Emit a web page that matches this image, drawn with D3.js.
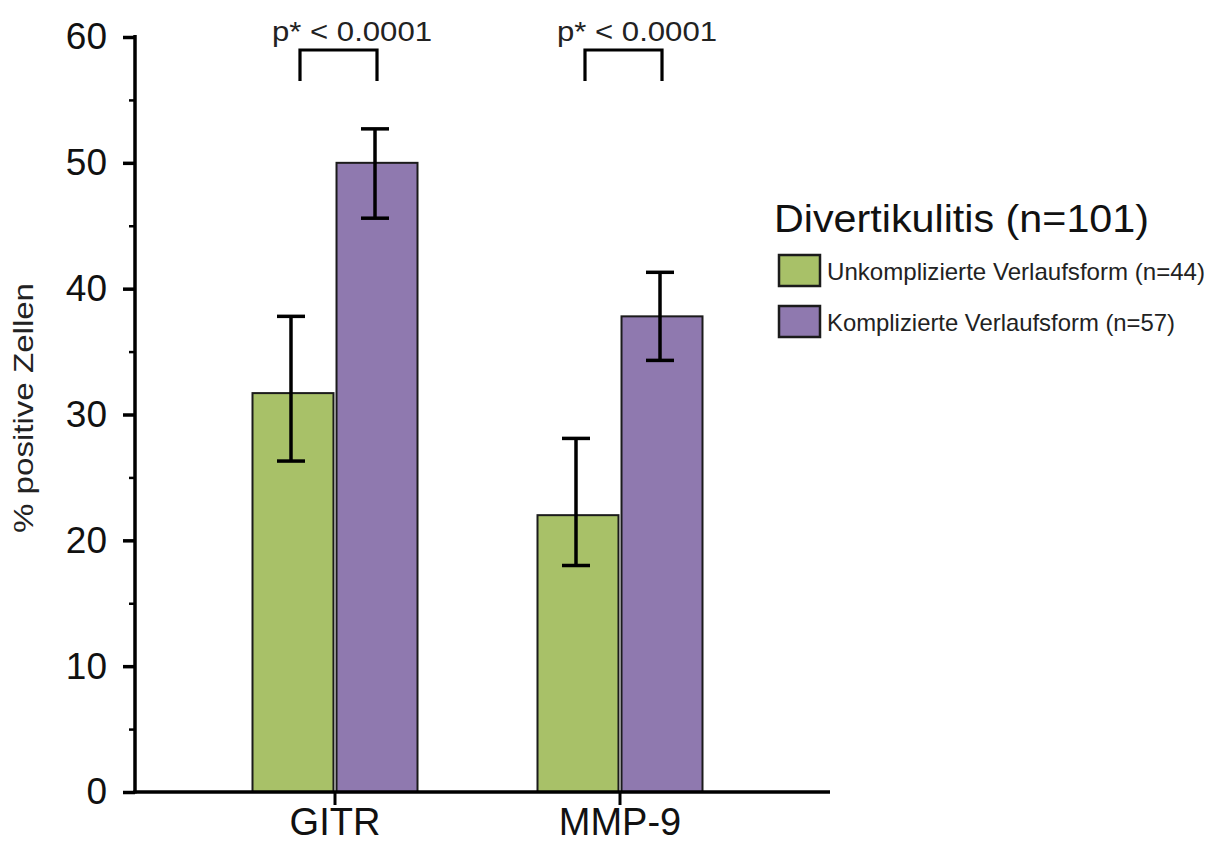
<!DOCTYPE html>
<html>
<head>
<meta charset="utf-8">
<script src="https://cdn.jsdelivr.net/npm/d3@7"></script>
<style>
  html, body { margin: 0; padding: 0; background: #fff; }
  svg { display: block; font-family: "Liberation Sans", Arial, Helvetica, sans-serif; }
</style>
</head>
<body>
<svg id="chart" width="1216" height="845"></svg>
<script>
// ---- data ----
const categories = ["GITR", "MMP-9"];
const seriesNames = ["Unkomplizierte Verlaufsform (n=44)", "Komplizierte Verlaufsform (n=57)"];
const seriesColors = ["#a8c168", "#8f79af"];
const meanUnkompliziert = [31.7, 22.0];
const meanKompliziert = [50.0, 37.8];
const errLowUnkompliziert = [26.3, 18.0];
const errHighUnkompliziert = [37.8, 28.1];
const errLowKompliziert = [45.6, 34.3];
const errHighKompliziert = [52.7, 41.3];
const pLabels = ["p* < 0.0001", "p* < 0.0001"];
const yTicks = [0, 10, 20, 30, 40, 50, 60];
const yMinorTicks = [5, 15, 25, 35, 45, 55];
const yLabel = "% positive Zellen";
const legendTitle = "Divertikulitis (n=101)";

const means = [meanUnkompliziert, meanKompliziert];
const lows = [errLowUnkompliziert, errLowKompliziert];
const highs = [errHighUnkompliziert, errHighKompliziert];

const rows = [];
categories.forEach((c, i) => {
  seriesNames.forEach((s, j) => {
    rows.push({cat: c, ser: s, si: j, v: means[j][i], lo: lows[j][i], hi: highs[j][i]});
  });
});

const svg = d3.select("#chart");
const axisX = 135, axisRight = 830;

const y = d3.scaleLinear().domain([0, 60]).range([792, 37]);
const x0 = d3.scaleBand().domain(categories).range([192.5, 762.5]).padding(0);
const x1 = d3.scaleBand().domain(seriesNames).range([-82.5, 82.5]).paddingInner(0.036).paddingOuter(0);
const color = d3.scaleOrdinal().domain(seriesNames).range(seriesColors);
const cx = c => x0(c) + x0.bandwidth() / 2;

// bars
svg.append("g").selectAll("rect").data(rows).join("rect")
  .attr("x", d => cx(d.cat) + x1(d.ser))
  .attr("y", d => y(d.v))
  .attr("width", x1.bandwidth())
  .attr("height", d => y(0) - y(d.v))
  .attr("fill", d => color(d.ser))
  .attr("stroke", "#1b1b1b")
  .attr("stroke-width", 2);

// error bars
const eb = svg.append("g").attr("stroke", "#000").attr("stroke-width", 3.5).attr("fill", "none");
rows.forEach(d => {
  const xc = cx(d.cat) + x1(d.ser) + x1.bandwidth() / 2 - 2;
  eb.append("line").attr("x1", xc).attr("x2", xc).attr("y1", y(d.hi)).attr("y2", y(d.lo));
  eb.append("line").attr("x1", xc - 14).attr("x2", xc + 14).attr("y1", y(d.hi)).attr("y2", y(d.hi));
  eb.append("line").attr("x1", xc - 14).attr("x2", xc + 14).attr("y1", y(d.lo)).attr("y2", y(d.lo));
});

// y axis
const yAxis = d3.axisLeft(y).tickValues(yTicks).tickSize(12).tickPadding(16).tickFormat(d3.format("d"));
const gy = svg.append("g").attr("transform", `translate(${axisX},0)`).call(yAxis);
gy.select(".domain").remove();
gy.selectAll(".tick line").attr("stroke", "#000").attr("stroke-width", 3.5);
gy.selectAll(".tick text").attr("font-size", 37).attr("fill", "#111").attr("font-family", "Liberation Sans, Arial, sans-serif");
const gyMinor = svg.append("g").attr("transform", `translate(${axisX},0)`)
  .call(d3.axisLeft(y).tickValues(yMinorTicks).tickSize(6).tickFormat(""));
gyMinor.select(".domain").remove();
gyMinor.selectAll(".tick line").attr("stroke", "#000").attr("stroke-width", 2.5);
svg.append("line").attr("x1", axisX).attr("x2", axisX).attr("y1", y(60) - 2).attr("y2", y(0) + 1.5)
  .attr("stroke", "#000").attr("stroke-width", 3.5);

// x axis
svg.append("line").attr("x1", axisX - 1.75).attr("x2", axisRight).attr("y1", y(0)).attr("y2", y(0))
  .attr("stroke", "#000").attr("stroke-width", 3.5);
const xAxis = d3.axisBottom(x0).tickSize(13).tickPadding(6);
const gx = svg.append("g").attr("transform", `translate(0,${y(0)})`).call(xAxis);
gx.select(".domain").remove();
gx.selectAll(".tick line").attr("stroke", "#000").attr("stroke-width", 3);
gx.selectAll(".tick text").attr("font-size", 38).attr("fill", "#111").attr("dy", "0.64em")
  .attr("font-family", "Liberation Sans, Arial, sans-serif");

// y label
svg.append("text")
  .attr("transform", `translate(33,408) rotate(-90)`)
  .attr("text-anchor", "middle")
  .attr("font-size", 28).attr("fill", "#222")
  .attr("textLength", 250).attr("lengthAdjust", "spacingAndGlyphs")
  .text(yLabel);

// significance brackets
categories.forEach((c, i) => {
  const xl = cx(c) + x1(seriesNames[0]) + x1.bandwidth() / 2 + 7;
  const xr = cx(c) + x1(seriesNames[1]) + x1.bandwidth() / 2;
  const top = 50, bot = 81;
  svg.append("path")
    .attr("d", `M${xl},${bot}V${top}H${xr}V${bot}`)
    .attr("fill", "none").attr("stroke", "#000").attr("stroke-width", 3.2);
  svg.append("text")
    .attr("x", cx(c) + 17).attr("y", 41)
    .attr("text-anchor", "middle")
    .attr("font-size", 28).attr("fill", "#222")
    .attr("textLength", 160).attr("lengthAdjust", "spacingAndGlyphs")
    .text(pLabels[i]);
});

// legend
const lg = svg.append("g");
lg.append("text").attr("x", 774).attr("y", 232)
  .attr("font-size", 38).attr("fill", "#111")
  .attr("textLength", 375).attr("lengthAdjust", "spacingAndGlyphs")
  .text(legendTitle);
const itemLens = [378, 348];
seriesNames.forEach((s, j) => {
  const yy = 255 + j * 51;
  lg.append("rect").attr("x", 779).attr("y", yy).attr("width", 41).attr("height", 31)
    .attr("fill", color(s)).attr("stroke", "#1b1b1b").attr("stroke-width", 2.5);
  lg.append("text").attr("x", 827).attr("y", yy + 25)
    .attr("font-size", 24).attr("fill", "#222")
    .attr("textLength", itemLens[j]).attr("lengthAdjust", "spacingAndGlyphs")
    .text(s);
});
</script>
</body>
</html>
